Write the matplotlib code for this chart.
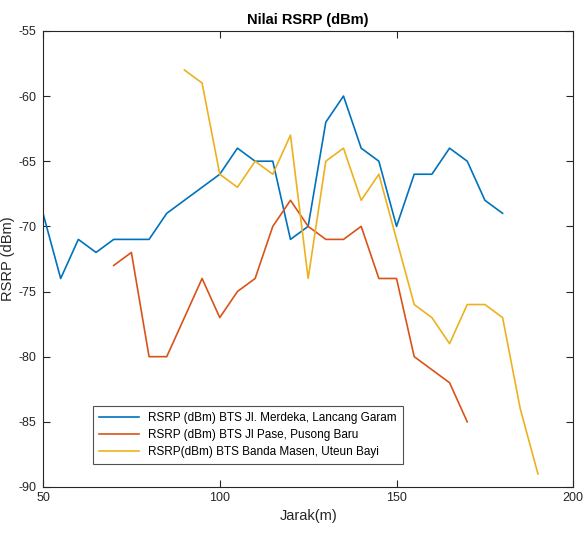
import numpy as np
import matplotlib
matplotlib.use("Agg")
import matplotlib.pyplot as plt

plt.rcParams['font.family'] = ['Liberation Sans', 'DejaVu Sans']
plt.rcParams['axes.unicode_minus'] = False

# data
x_merdeka = [50, 55, 60, 65, 70, 75, 80, 85, 90, 95, 100, 105, 110, 115, 120, 125,
             130, 135, 140, 145, 150, 155, 160, 165, 170, 175, 180]
y_merdeka = [-69, -74, -71, -72, -71, -71, -71, -69, -68, -67, -66, -64, -65, -65, -71, -70,
             -62, -60, -64, -65, -70, -66, -66, -64, -65, -68, -69]

x_pase = [70, 75, 80, 85, 90, 95, 100, 105, 110, 115, 120, 125, 130, 135, 140, 145,
          150, 155, 160, 165, 170]
y_pase = [-73, -72, -80, -80, -77, -74, -77, -75, -74, -70, -68, -70, -71, -71, -70, -74,
          -74, -80, -81, -82, -85]

x_banda = [90, 95, 100, 105, 110, 115, 120, 125, 130, 135, 140, 145, 150, 155, 160, 165,
           170, 175, 180, 185, 190]
y_banda = [-58, -59, -66, -67, -65, -66, -63, -74, -65, -64, -68, -66, -71, -76, -77, -79,
           -76, -76, -77, -84, -89]

labels = ["RSRP (dBm) BTS Jl. Merdeka, Lancang Garam",
          "RSRP (dBm) BTS Jl Pase, Pusong Baru",
          "RSRP(dBm) BTS Banda Masen, Uteun Bayi"]
colors = ["#0072BD", "#D95319", "#EDB120"]

fig = plt.figure(figsize=(5.85, 5.42), dpi=100)
ax = fig.add_axes([0.0735, 0.1015, 0.9065, 0.8415])

ax.plot(x_merdeka, y_merdeka, color=colors[0], lw=1.2, label=labels[0])
ax.plot(x_pase, y_pase, color=colors[1], lw=1.2, label=labels[1])
ax.plot(x_banda, y_banda, color=colors[2], lw=1.2, label=labels[2])

ax.set_xlim(50, 200)
ax.set_ylim(-90, -55)
ax.set_xticks([50, 100, 150, 200])
ax.set_yticks(np.arange(-90, -54, 5))
ax.tick_params(direction='in', top=True, right=True, labelsize=9, length=5,
               color='#262626', labelcolor='#262626')
ax.tick_params(axis='y', pad=5)
for s in ax.spines.values():
    s.set_color('#262626')
    s.set_linewidth(0.8)

ax.set_title("Nilai RSRP (dBm)", fontsize=10.5, fontweight='bold', pad=5)
ax.set_xlabel("Jarak(m)", fontsize=10.5, color='#262626')
ax.set_ylabel("RSRP (dBm)", fontsize=10.5, color='#262626')
ax.yaxis.set_label_coords(-0.052, 0.5)

leg = ax.legend(loc='lower left', bbox_to_anchor=(0.094, 0.05), borderaxespad=0,
                fontsize=8.5, frameon=True, fancybox=False, edgecolor='#262626',
                handlelength=3.4, borderpad=0.5, labelspacing=0.45)
leg.get_frame().set_linewidth(0.8)

fig.savefig("out.png", dpi=100)
